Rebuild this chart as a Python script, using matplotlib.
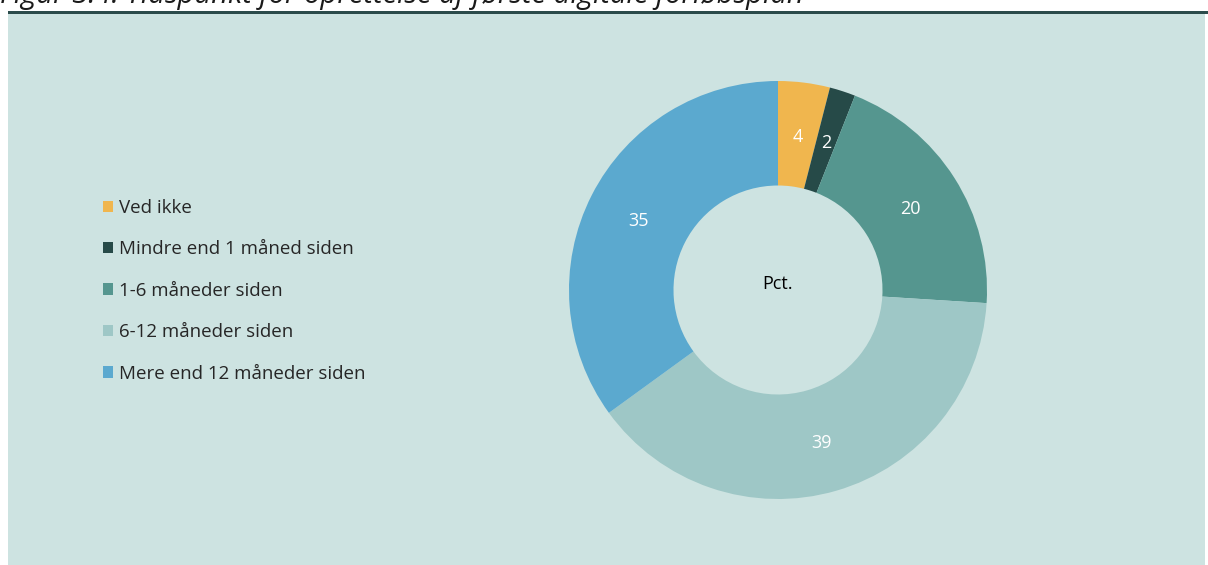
import matplotlib.pyplot as plt
from matplotlib.patches import Rectangle

plt.rcParams['font.family'] = ['Open Sans', 'DejaVu Sans']

# Data
categories = ['Ved ikke', 'Mindre end 1 måned siden', '1-6 måneder siden',
              '6-12 måneder siden', 'Mere end 12 måneder siden']
values = [4, 2, 20, 39, 35]
colors = ['#F0B64E', '#264A48', '#55968F', '#9EC7C6', '#5BA9CF']
title = 'Figur 3.4: Tidspunkt for oprettelse af første digitale forløbsplan'

W, H = 1208, 565
fig = plt.figure(figsize=(W / 100, H / 100), dpi=100)
fig.patch.set_facecolor('white')

# background panel and rule line
fig.patches.append(Rectangle((8 / W, 0), (1205 - 8) / W, (H - 13) / H,
                             transform=fig.transFigure, facecolor='#CDE3E1',
                             edgecolor='none', zorder=0))
fig.patches.append(Rectangle((8 / W, (H - 14) / H), (W - 8) / W, 2.5 / H,
                             transform=fig.transFigure, facecolor='#2B4B4B',
                             edgecolor='none', zorder=1))

# cut-off title at the top (only its lower part shows, as in the source)
fig.text(0.0, 1 - 3 / H, title, fontsize=21, style='italic', color='#1a1a1a',
         ha='left', va='baseline')

# donut
cx, cy, r = 778, 290, 209
ax = fig.add_axes([(cx - r) / W, (H - cy - r) / H, 2 * r / W, 2 * r / H])
ax.set_zorder(3)
ax.set_facecolor('none')
wedges, texts, autotexts = ax.pie(values, colors=colors, startangle=90, counterclock=False,
                                  radius=1, wedgeprops=dict(width=0.5, edgecolor='none'),
                                  autopct=lambda p: f'{p:.0f}', pctdistance=0.75,
                                  textprops=dict(color='white', fontsize=13))
for t in autotexts:
    x, y = t.get_position()
    t.set_position((x, y - 0.012))
ax.set_xlim(-1, 1)
ax.set_ylim(-1, 1)
ax.set_aspect('equal')
ax.text(0, 0.03, 'Pct.', ha='center', va='center', fontsize=13, color='black')

# legend
leg = fig.legend(wedges, categories, loc='upper left',
                 bbox_to_anchor=(86 / W, 1 - 182 / H), frameon=False,
                 fontsize=13.5, handlelength=0.55, handleheight=0.55,
                 handletextpad=0.3, labelspacing=1.25, labelcolor='#262626')
leg.set_zorder(4)

fig.savefig('out.png', dpi=100)
